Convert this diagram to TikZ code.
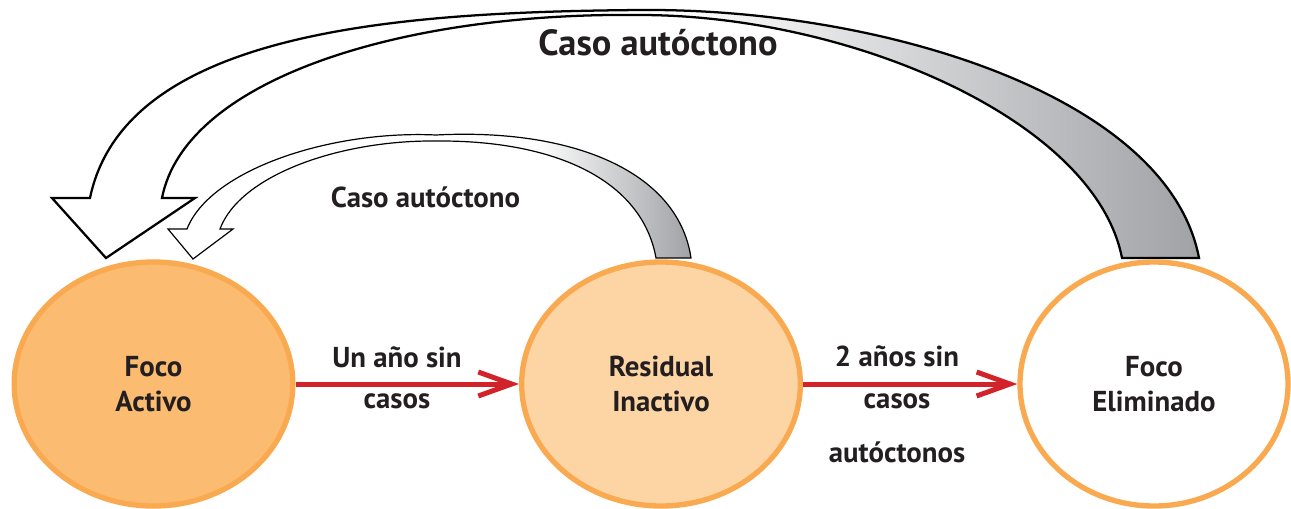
\documentclass[tikz,border=0pt]{standalone}
\usepackage{fontspec}
\setmainfont{PT Sans}
\usetikzlibrary{shapes.geometric,arrows.meta}

\definecolor{focoorange}{RGB}{251,188,113}
\definecolor{focoedge}{RGB}{249,169,79}
\definecolor{residualpeach}{RGB}{253,213,165}
\definecolor{transred}{RGB}{210,35,42}
\definecolor{ribbongray}{RGB}{160,162,166}
\definecolor{labelblack}{RGB}{35,31,32}

\pgfdeclarehorizontalshading{longribbon}{100bp}{color(0bp)=(white); color(52bp)=(white); color(75bp)=(ribbongray); color(100bp)=(ribbongray)}
\pgfdeclarehorizontalshading{shortribbon}{100bp}{color(0bp)=(white); color(60bp)=(white); color(75bp)=(ribbongray); color(100bp)=(ribbongray)}

\tikzset{
  focus/.style={ellipse, draw=focoedge, line width=4pt, inner sep=0pt,
    minimum width=209pt, minimum height=183pt, align=center, text=labelblack,
    font=\bfseries\fontsize{21.6}{26}\selectfont},
  transition/.style={draw=transred, line width=3.75pt,
    -{Straight Barb[length=25pt,width=18pt]}},
  steplabel/.style={align=center, text=labelblack, inner sep=0pt},
  bigribbon/.style={shade, shading=longribbon, draw=black, line width=1.7pt},
  smallribbon/.style={shade, shading=shortribbon, draw=black, line width=0.9pt}
}

\begin{document}
\begin{tikzpicture}[x=0.75pt,y=0.75pt,yscale=-1,xscale=1]
\useasboundingbox (0,0) rectangle (1291,508);

%Shape: long ribbon, Foco Eliminado back to Foco Activo
\path[bigribbon] (1199,258) .. controls (1168,95) and (880,8) .. (640,10)
  .. controls (400,12) and (125,30) .. (90,198)
  -- (52,198) -- (106,258) -- (195,198) -- (162,198)
  .. controls (185,80) and (400,12) .. (640,15)
  .. controls (850,15) and (1095,120) .. (1122,258) -- cycle;
%Shape: short ribbon, Residual Inactivo back to Foco Activo
\path[smallribbon] (691,258) .. controls (678,170) and (570,128) .. (436,135)
  .. controls (330,130) and (210,170) .. (187,229)
  -- (168,229) -- (193,259) -- (233,229) -- (220,229)
  .. controls (240,175) and (340,140) .. (436,141)
  .. controls (555,140) and (642,180) .. (656,258) -- cycle;

%Shape: Ellipses
\node[focus, fill=focoorange] (activo) at (153.5,384) {Foco\\Activo};
\node[focus, fill=residualpeach] (residual) at (661,384) {Residual\\Inactivo};
\node[focus, fill=white, minimum width=201pt] (eliminado) at (1154,384) {Foco\\Eliminado};

%Straight Lines
\draw[transition] (activo) -- (residual);
\draw[transition] (residual) -- (eliminado);

% Text Node
\node[steplabel, font=\bfseries\fontsize{21.6}{31}\selectfont] (unano) at (397,378) {Un año sin\\casos};
% Text Node
\node[steplabel, font=\bfseries\fontsize{21.6}{31.5}\selectfont] (dosanos) at (897,404) {2 años sin\\casos\\[9pt]autóctonos};
% Text Node
\node[steplabel, anchor=base, font=\bfseries\fontsize{21.6}{24}\selectfont] (casocorto) at (425.5,207) {Caso autóctono};
% Text Node
\node[steplabel, anchor=base, font=\bfseries\fontsize{27.3}{30}\selectfont] (casolargo) at (658,55) {Caso autóctono};

\end{tikzpicture}
\end{document}
